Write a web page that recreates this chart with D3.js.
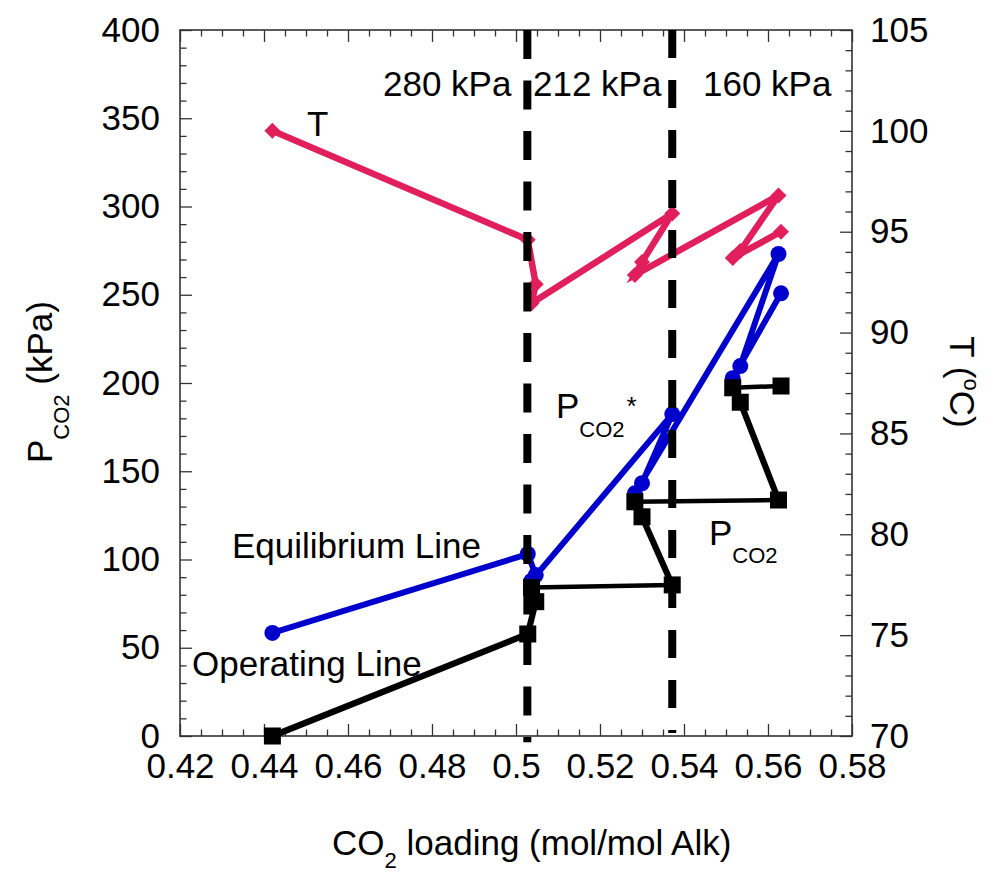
<!DOCTYPE html>
<html>
<head>
<meta charset="utf-8">
<script src="https://cdn.jsdelivr.net/npm/d3@7/dist/d3.min.js"></script>
<style>
  html, body { margin: 0; padding: 0; background: #fff; }
  svg text { font-family: "Liberation Sans", Arial, Helvetica, sans-serif; fill: #000; }
</style>
</head>
<body>
<svg id="chart" width="1000" height="873"></svg>
<script>
// CO2 loading of each stream point (mol CO2 / mol alkalinity)
const loading = [0.442, 0.5028, 0.5047, 0.5037, 0.5372, 0.5300, 0.5283, 0.5625, 0.5534, 0.5516, 0.5631];
// Operating line: partial pressure of CO2 (kPa)
const pOperating = [0, 57.8, 76.1, 84.2, 85.6, 124.2, 132.7, 133.7, 189.1, 197.3, 198.3];
// Equilibrium line: P*CO2 (kPa)
const pEquilibrium = [58.4, 103.1, 91.2, 88, 182.4, 143.2, 137.5, 273.1, 209.6, 202.7, 250.8];
// Temperature (°C)
const tempC = [100, 94.6, 92.4, 91.45, 95.9, 93.5, 92.85, 96.8, 94.05, 93.7, 95.0];

// Stage boundaries and stage pressures
const stageBounds = [0.5027, 0.5372];
const stageLabels = ["280 kPa", "212 kPa", "160 kPa"];

// Tick values
const xTicks = [0.42, 0.44, 0.46, 0.48, 0.50, 0.52, 0.54, 0.56, 0.58];
const pTicks = [0, 50, 100, 150, 200, 250, 300, 350, 400];
const tTicks = [70, 75, 80, 85, 90, 95, 100, 105];

const svg = d3.select("#chart");
const FS = 35;
const plotL = 180, plotR = 852, plotT = 30, plotB = 736;

const x = d3.scaleLinear().domain([0.42, 0.58]).range([plotL, plotR]);
const yP = d3.scaleLinear().domain([0, 400]).range([plotB, plotT]);
const yT = d3.scaleLinear().domain([70, 105]).range([plotB, plotT]);

const axisColor = "#333";
const fmtX = d => d3.format(".2f")(d).replace(/0$/, "").replace(/\.$/, "");

// minor tick lists
const xMinor = d3.range(0.42, 0.5801, 0.005).filter(v => Math.abs(Math.round(v / 0.02) * 0.02 - v) > 1e-6);
const pMinor = d3.range(0, 401, 10).filter(v => v % 50 !== 0);
const tMinor = d3.range(70, 105.01, 1).filter(v => v % 5 !== 0);

function styleAxis(g) {
  g.select(".domain").remove();
  g.selectAll(".tick line").attr("stroke", axisColor).attr("stroke-width", 1.3);
  g.selectAll(".tick text").attr("font-size", FS).attr("font-family", '"Liberation Sans", Arial, sans-serif');
}

// bottom axis (ticks pointing inward)
svg.append("g").attr("transform", `translate(0,${plotB})`)
  .call(d3.axisBottom(x).tickValues(xTicks).tickFormat(fmtX).tickSizeInner(-12).tickSizeOuter(0).tickPadding(18))
  .call(styleAxis)
  .call(g => g.selectAll(".tick text").attr("dy", "0.71em").attr("y", 17));
svg.append("g").attr("transform", `translate(0,${plotB})`)
  .call(d3.axisBottom(x).tickValues(xMinor).tickFormat("").tickSizeInner(-6.5).tickSizeOuter(0))
  .call(styleAxis);
// top axis
svg.append("g").attr("transform", `translate(0,${plotT})`)
  .call(d3.axisTop(x).tickValues(xTicks).tickFormat("").tickSizeInner(-12).tickSizeOuter(0))
  .call(styleAxis);
svg.append("g").attr("transform", `translate(0,${plotT})`)
  .call(d3.axisTop(x).tickValues(xMinor).tickFormat("").tickSizeInner(-6.5).tickSizeOuter(0))
  .call(styleAxis);
// left axis (pressure)
svg.append("g").attr("transform", `translate(${plotL},0)`)
  .call(d3.axisLeft(yP).tickValues(pTicks).tickSizeInner(-12).tickSizeOuter(0).tickPadding(20))
  .call(styleAxis)
  .call(g => g.selectAll(".tick text").attr("x", -20));
svg.append("g").attr("transform", `translate(${plotL},0)`)
  .call(d3.axisLeft(yP).tickValues(pMinor).tickFormat("").tickSizeInner(-6.5).tickSizeOuter(0))
  .call(styleAxis);
// right axis (temperature)
svg.append("g").attr("transform", `translate(${plotR},0)`)
  .call(d3.axisRight(yT).tickValues(tTicks).tickSizeInner(-12).tickSizeOuter(0).tickPadding(18))
  .call(styleAxis)
  .call(g => g.selectAll(".tick text").attr("x", 18));
svg.append("g").attr("transform", `translate(${plotR},0)`)
  .call(d3.axisRight(yT).tickValues(tMinor).tickFormat("").tickSizeInner(-6.5).tickSizeOuter(0))
  .call(styleAxis);

// plot frame
svg.append("rect")
  .attr("x", plotL).attr("y", plotT).attr("width", plotR - plotL).attr("height", plotB - plotT)
  .attr("fill", "none").attr("stroke", axisColor).attr("stroke-width", 1.6);

const pts = (ys, scale) => loading.map((l, i) => [x(l), scale(ys[i])]);

// temperature profile
const pink = "#E01F5C";
const tPts = pts(tempC, yT);
svg.append("path").attr("d", d3.line()(tPts))
  .attr("fill", "none").attr("stroke", pink).attr("stroke-width", 6.5).attr("stroke-linejoin", "miter");
svg.append("g").selectAll("path").data(tPts).join("path")
  .attr("d", d3.symbol(d3.symbolSquare, 128)())
  .attr("transform", d => `translate(${d[0]},${d[1]}) rotate(45)`)
  .attr("fill", pink);

// equilibrium line
const blue = "#0000CC";
const ePts = pts(pEquilibrium, yP);
svg.append("path").attr("d", d3.line()(ePts))
  .attr("fill", "none").attr("stroke", blue).attr("stroke-width", 6).attr("stroke-linejoin", "round");
svg.append("g").selectAll("circle").data(ePts).join("circle")
  .attr("cx", d => d[0]).attr("cy", d => d[1]).attr("r", 8).attr("fill", blue);

// operating line; nearly flat transfers between stages are drawn thinner
const oPts = pts(pOperating, yP);
const segs = d3.pairs(oPts.map((p, i) => ({ p, v: pOperating[i] })));
svg.append("g").selectAll("line").data(segs).join("line")
  .attr("x1", d => d[0].p[0]).attr("y1", d => d[0].p[1])
  .attr("x2", d => d[1].p[0]).attr("y2", d => d[1].p[1])
  .attr("stroke", "#000")
  .attr("stroke-width", d => Math.abs(d[1].v - d[0].v) < 3 ? 4.5 : 6.2)
  .attr("stroke-linecap", "round");
svg.append("g").selectAll("rect").data(oPts).join("rect")
  .attr("x", d => d[0] - 8.5).attr("y", d => d[1] - 8.5)
  .attr("width", 17).attr("height", 17).attr("fill", "#000");

// stage boundaries
svg.append("line")
  .attr("x1", x(stageBounds[0])).attr("x2", x(stageBounds[0]))
  .attr("y1", yP(400)).attr("y2", yP(-3.5))
  .attr("stroke", "#000").attr("stroke-width", 8).attr("stroke-dasharray", "29,21.5");
svg.append("line")
  .attr("x1", x(stageBounds[1])).attr("x2", x(stageBounds[1]))
  .attr("y1", yP(400)).attr("y2", yP(1.7))
  .attr("stroke", "#000").attr("stroke-width", 8).attr("stroke-dasharray", "28,22");

// stage pressure labels
const stageX = [383, 533, 703];
stageLabels.forEach((s, i) => {
  svg.append("text").attr("x", stageX[i]).attr("y", 96).attr("font-size", FS).text(s);
});

// series labels
svg.append("text").attr("x", 307).attr("y", 136).attr("font-size", FS).text("T");
svg.append("text").attr("x", 232).attr("y", 558).attr("font-size", FS).text("Equilibrium Line");
svg.append("text").attr("x", 192).attr("y", 676).attr("font-size", FS).text("Operating Line");

const pStar = svg.append("text").attr("x", 556).attr("y", 418).attr("font-size", FS);
pStar.append("tspan").text("P");
pStar.append("tspan").attr("font-size", 22).attr("dy", 19).text("CO2");
pStar.append("tspan").attr("font-size", 26).attr("dx", 2).attr("dy", -22).text("*");

const pOp = svg.append("text").attr("x", 709).attr("y", 545).attr("font-size", FS);
pOp.append("tspan").text("P");
pOp.append("tspan").attr("font-size", 22).attr("dy", 18).text("CO2");

// axis titles
const xt = svg.append("text").attr("x", 332).attr("y", 855).attr("font-size", FS);
xt.append("tspan").text("CO");
xt.append("tspan").attr("font-size", 22).attr("dy", 13).text("2");
xt.append("tspan").attr("dy", -13).text(" loading (mol/mol Alk)");

const yl = svg.append("text").attr("transform", "translate(52,382) rotate(-90)")
  .attr("text-anchor", "middle").attr("font-size", FS);
yl.append("tspan").text("P");
yl.append("tspan").attr("font-size", 22).attr("dy", 17).text("CO2");
yl.append("tspan").attr("dy", -17).text(" (kPa)");

const yr = svg.append("text").attr("transform", "translate(950,382) rotate(90)")
  .attr("text-anchor", "middle").attr("font-size", FS);
yr.append("tspan").text("T (");
yr.append("tspan").attr("font-size", 22).attr("dy", -14).text("o");
yr.append("tspan").attr("dy", 14).text("C)");
</script>
</body>
</html>
